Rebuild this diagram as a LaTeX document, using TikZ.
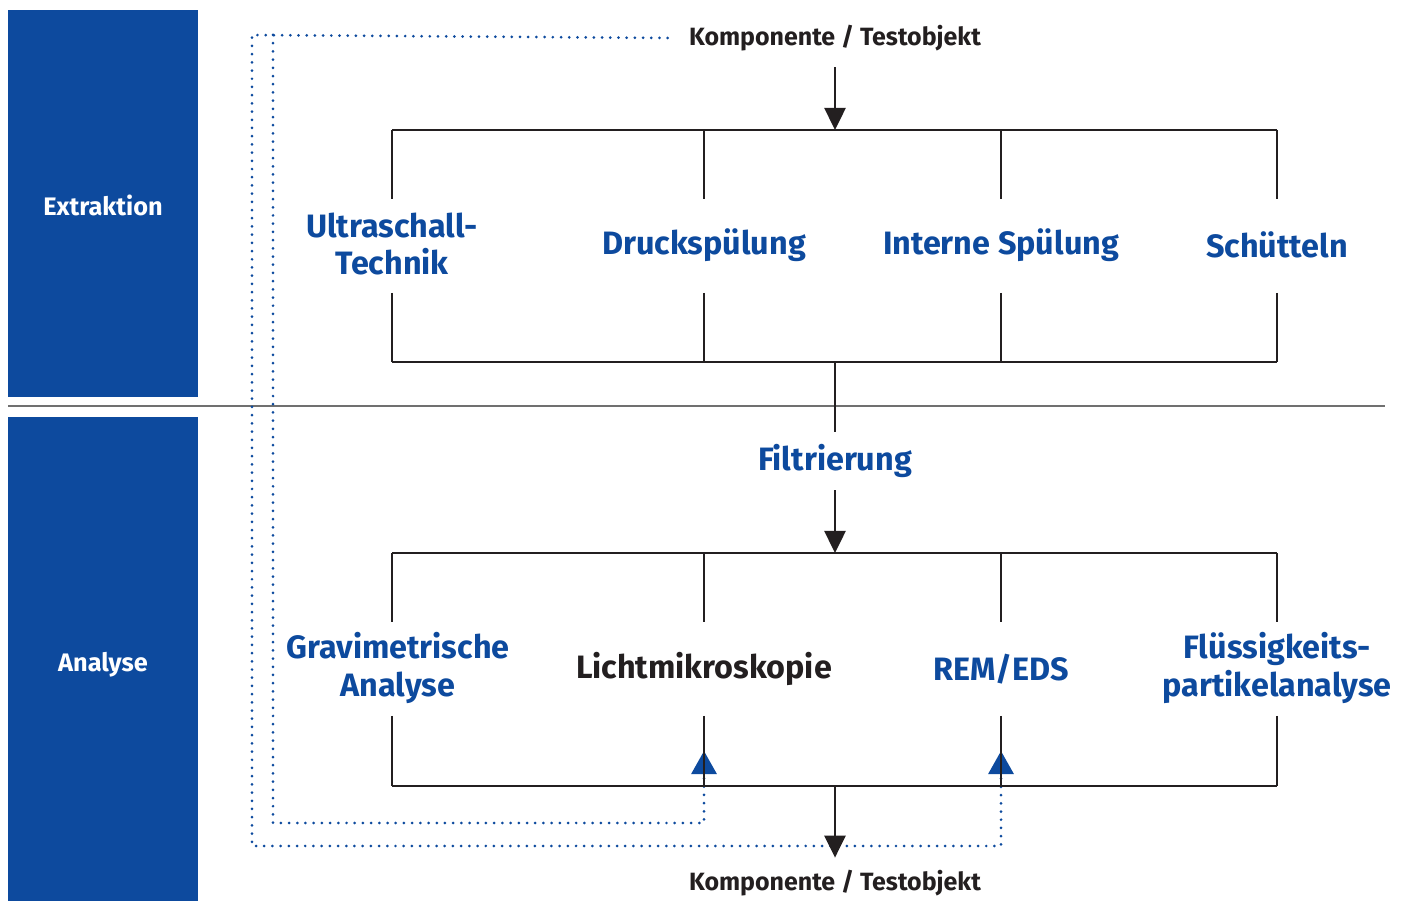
\documentclass[tikz,border=0pt]{standalone}
\usepackage{fontspec}
\setmainfont{Fira Sans}
\usetikzlibrary{arrows.meta}
\definecolor{PhaseBlue}{HTML}{0D4A9E}
\definecolor{InkBlack}{HTML}{231F20}
\definecolor{RuleGray}{HTML}{707070}
\tikzset{
	phaselabel/.style={text=white, font=\bfseries\fontsize{7.2}{8}\selectfont},
	method/.style={align=center, text=PhaseBlue, font=\bfseries\fontsize{9.2}{10.6}\selectfont},
	objlabel/.style={text=InkBlack, font=\bfseries\fontsize{7.1}{8}\selectfont},
	bracket/.style={draw=InkBlack, line width=0.72pt},
	flow/.style={bracket, -{Triangle[length=0.22cm,width=0.21cm]}},
	feedback/.style={draw=PhaseBlue, line width=0.85pt, line cap=round, dash pattern=on 0pt off 0.082cm, -{Triangle[length=0.23cm,width=0.25cm]}},
}

\begin{document}
\begin{tikzpicture}[x=0.01cm,y=-0.01cm]
	\useasboundingbox (0,0) rectangle (1409,901);
	\fill[white] (0,0) rectangle (1409,901);

	% phases
	\fill[PhaseBlue] (8,10) rectangle (198,397);
	\fill[PhaseBlue] (8,417) rectangle (198,901);
	\node[phaselabel] (extr) at (103,205) {Extraktion};
	\node[phaselabel] (anal) at (103,665) {Analyse};
	\draw[RuleGray, line width=0.4pt] (8,406) -- (1385,406);

	% texts
	\node[objlabel] (src) at (835,38) {Komponente / Testobjekt};
	\node[objlabel] (dst) at (835,883) {Komponente / Testobjekt};
	\node[method] (ultra) at (392,244) {Ultraschall-\\Technik};
	\node[method] (druck) at (704,245) {Druckspülung};
	\node[method] (intern) at (1001,245) {Interne Spülung};
	\node[method] (schuett) at (1277,245) {Schütteln};
	\node[method] (filt) at (835,461) {Filtrierung};
	\node[method] (grav) at (398,668) {Gravimetrische\\Analyse};
	\node[method, text=InkBlack] (licht) at (704,669) {Lichtmikroskopie};
	\node[method] (rem) at (1001,669) {REM/EDS};
	\node[method] (fluess) at (1277,668) {Flüssigkeits-\\partikelanalyse};

	% dotted return paths
	\draw[feedback] ([xshift=-0.09cm]src.west) -- (252,35) -- (252,846) -- (1001,846) -- (rem.south |- 0,751);
	\draw[feedback] (273,35) -- (273,823) -- (704,823) -- (licht.south |- 0,751);

	% brackets
	\draw[bracket] (392,130) -- (1277,130);
	\draw[bracket] (392,362) -- (1277,362);
	\draw[bracket] (392,553) -- (1277,553);
	\draw[bracket] (392,786) -- (1277,786);
	\foreach \col in {392,704,1001,1277} {
		\draw[bracket] (\col,130) -- (\col,199);
		\draw[bracket] (\col,293) -- (\col,362);
		\draw[bracket] (\col,553) -- (\col,622);
		\draw[bracket] (\col,716) -- (\col,786);
	}

	\draw[flow, shorten <=0.04cm] (src.south) -- (835,130);
	\draw[bracket] (835,362) -- (filt.north);
	\draw[flow] (filt.south) -- (835,553);
	\draw[flow] (835,786) -- (dst.north);
\end{tikzpicture}
\end{document}
